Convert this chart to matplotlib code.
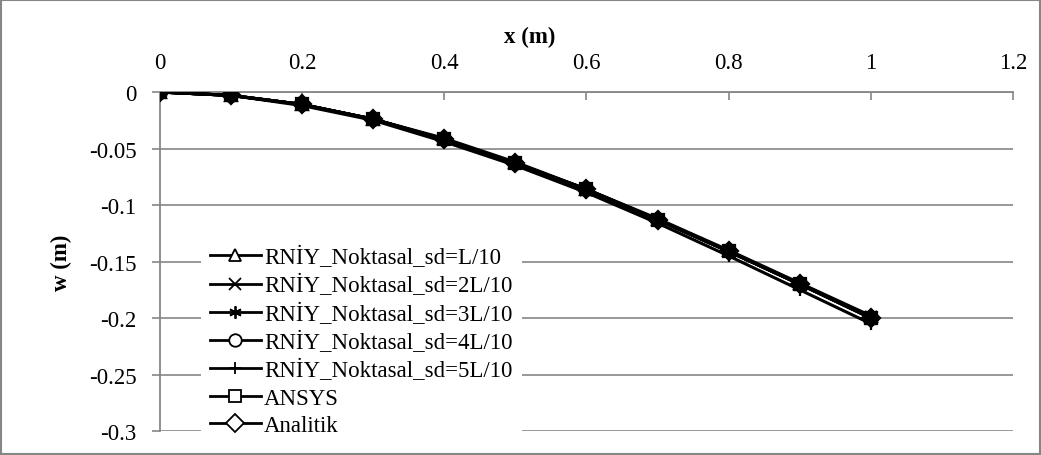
import matplotlib
matplotlib.use("Agg")
import matplotlib.pyplot as plt
from matplotlib.patches import Rectangle

plt.rcParams["font.family"] = ["Liberation Serif", "DejaVu Serif"]
plt.rcParams["axes.unicode_minus"] = False

# positions along the beam (m)
x_pos = [0.0, 0.1, 0.2, 0.3, 0.4, 0.5, 0.6, 0.7, 0.8, 0.9, 1.0]

# deflection w (m) for each solution
w_sd1 = [0, -0.003, -0.011, -0.024, -0.041, -0.062, -0.086, -0.112, -0.140, -0.169, -0.198]
w_sd2 = [0, -0.003, -0.011, -0.024, -0.042, -0.063, -0.087, -0.113, -0.141, -0.170, -0.199]
w_sd3 = [0, -0.003, -0.011, -0.024, -0.042, -0.063, -0.087, -0.113, -0.141, -0.170, -0.199]
w_sd4 = [0, -0.003, -0.011, -0.024, -0.042, -0.063, -0.086, -0.113, -0.141, -0.170, -0.200]
w_sd5 = [0, -0.003, -0.012, -0.025, -0.044, -0.065, -0.089, -0.116, -0.145, -0.175, -0.205]
w_ansys = [0, -0.003, -0.011, -0.024, -0.042, -0.063, -0.086, -0.113, -0.141, -0.170, -0.200]
w_analitik = [0, -0.003, -0.011, -0.024, -0.042, -0.063, -0.086, -0.113, -0.141, -0.170, -0.200]

labels = [
    "RNİY_Noktasal_sd=L/10",
    "RNİY_Noktasal_sd=2L/10",
    "RNİY_Noktasal_sd=3L/10",
    "RNİY_Noktasal_sd=4L/10",
    "RNİY_Noktasal_sd=5L/10",
    "ANSYS",
    "Analitik",
]
series = [w_sd1, w_sd2, w_sd3, w_sd4, w_sd5, w_ansys, w_analitik]
markers = ["^", "x", (6, 2, 0), "o", "+", "s", "D"]

x_ticks = [0, 0.2, 0.4, 0.6, 0.8, 1.0, 1.2]
x_ticklabels = ["0", "0.2", "0.4", "0.6", "0.8", "1", "1.2"]
y_ticks = [0, -0.05, -0.1, -0.15, -0.2, -0.25, -0.3]
y_ticklabels = ["0", "-0.05", "-0.1", "-0.15", "-0.2", "-0.25", "-0.3"]

grey = "#868686"
fs = 16.5

fig = plt.figure(figsize=(10.41, 4.56), dpi=100)
ax = fig.add_axes([0.1537, 0.0526, 0.8193, 0.7434])

# filled shapes first, stroke-only markers on top
order = [0, 3, 5, 6, 1, 2, 4]
for i in order:
    ax.plot(x_pos, series[i], color="black", lw=2.2, marker=markers[i], ms=9,
            mfc="black", mec="black", mew=1.6, label=labels[i], zorder=3 + i * 0.01)

ax.set_xlim(0, 1.2)
ax.set_ylim(-0.3, 0)
ax.set_xticks(x_ticks)
ax.set_xticklabels(x_ticklabels)
ax.set_yticks(y_ticks)
ax.set_yticklabels(y_ticklabels)

ax.xaxis.tick_top()
ax.tick_params(axis="x", direction="in", length=6, width=1.2, color=grey,
               labelsize=fs, pad=14)
ax.tick_params(axis="y", direction="out", length=6, width=1.2, color=grey,
               labelsize=fs, pad=11)

# axis titles
fig.text(530 / 1041, 1 - 37 / 456, "x (m)", fontsize=fs, fontweight="bold",
         ha="center", va="center")
ax.set_ylabel("w (m)", fontsize=fs, fontweight="bold", labelpad=12)

for side in ("bottom", "right"):
    ax.spines[side].set_visible(False)
for side in ("top", "left"):
    ax.spines[side].set_color(grey)
    ax.spines[side].set_linewidth(1.3)

ax.yaxis.grid(True, color=grey, lw=1.2, zorder=0)
ax.set_axisbelow(True)

handles, labs = ax.get_legend_handles_labels()
by_label = dict(zip(labs, handles))
leg = ax.legend([by_label[l] for l in labels], labels,
                loc="center left", bbox_to_anchor=(0.182, 0.250),
                bbox_transform=fig.transFigure, fontsize=fs,
                frameon=True, facecolor="white", edgecolor="none",
                framealpha=1, fancybox=False, handlelength=2.2,
                handletextpad=0.15, labelspacing=0.27, borderpad=0.4)
leg.set_zorder(5)
for h in leg.legend_handles:
    h.set_markerfacecolor("white")
    h.set_markeredgewidth(1.3)
    h.set_linewidth(2)

fig.patches.append(Rectangle((0.001, 0.002), 0.998, 0.996, fill=False,
                             edgecolor=grey, lw=1.5,
                             transform=fig.transFigure, figure=fig))

fig.savefig("out.png", dpi=100)
